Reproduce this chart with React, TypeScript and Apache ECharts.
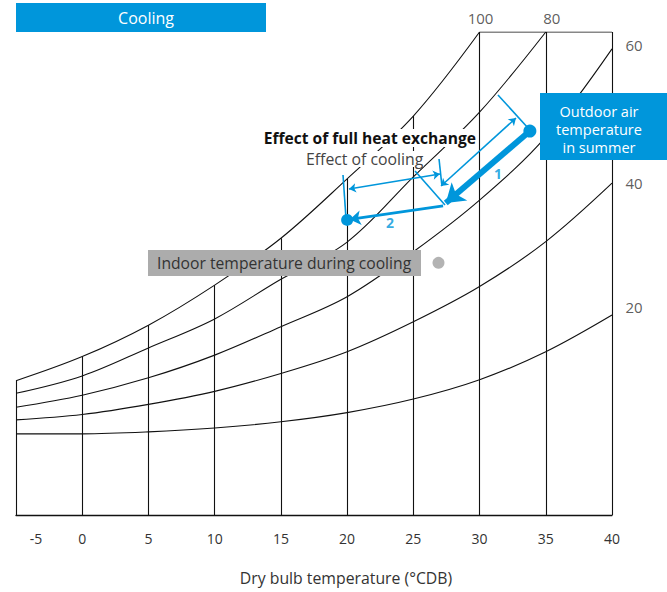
import React, { useEffect, useRef } from 'react';
import * as echarts from 'echarts';

// Dry bulb temperatures (°C) of the chart's vertical grid lines
const temps = [-5, 0, 5, 10, 15, 20, 25, 30, 35, 40];
// Relative humidity curves (chart humidity units, 0–100), read at each temperature
const rh100 = [27.8, 32.8, 39.3, 47.6, 57.3, 69.6, 82.6, 100];
const rh80 = [25.2, 28.8, 34.6, 40.6, 48.8, 56.5, 70.0, 83.4, 100];
const rh60 = [22.3, 24.8, 28.4, 33.1, 39.0, 45.2, 54.5, 65.2, 78.3, 96.5];
const rh40 = [19.7, 20.8, 22.9, 25.6, 29.3, 33.8, 40.0, 47.3, 56.6, 68.7];
const rh20 = [16.8, 16.8, 17.2, 18.0, 19.3, 21.2, 24.0, 28.0, 33.8, 41.4];
const rhLabels = ['100', '80', '60', '40', '20'];
const yTop = 100;

// State points
const outdoorPt = [33.8, 79.5];
const afterExchangePt = [27.45, 64.6];
const arrow2Start = [27.25, 64.0];
const arrow2End = [20.2, 61.2];
const indoorPt = [20.0, 61.1];
const indoorMarkerPt = [26.9, 52.2];

// Dimension extension lines and double arrows (data units)
const extLines = [
  [[31.39, 86.96], [33.73, 79.92]],
  [[25.13, 71.22], [27.39, 64.18]],
  [[26.94, 73.71], [27.16, 68.12]],
  [[19.69, 70.39], [19.92, 61.28]],
];
const dimArrows = [
  [[27.09, 68.12], [32.75, 82.19]],
  [[20.14, 67.49], [27.01, 70.6]],
];
const stepLabels = [
  { name: '1', value: [31.39, 70.8] },
  { name: '2', value: [23.24, 60.46] },
];
const outdoorLines = ['Outdoor air', 'temperature', 'in summer'];

const BLUE = '#0096db';
const FONT = '"Open Sans", "Noto Sans", sans-serif';

function curve(arr: number[]) {
  return arr.map((v, i) => [temps[i], v]);
}

function txt(x: number, y: number, text: string, align: string, extra: any) {
  return {
    type: 'text',
    x,
    y,
    z: 110,
    style: {
      text,
      fontFamily: FONT,
      align,
      verticalAlign: 'middle',
      textAlign: align,
      textVerticalAlign: 'middle',
      ...extra,
    },
  };
}

function box(x: number, y: number, width: number, height: number, fill: string) {
  return { type: 'rect', z: 100, shape: { x, y, width, height }, style: { fill } };
}

export default function App() {
  const ref = useRef<HTMLDivElement>(null);
  useEffect(() => {
    if (!ref.current) return;
    const chart = echarts.init(ref.current, undefined, { renderer: 'svg' });
    const curves = [rh100, rh80, rh60, rh40, rh20];
    const labelPos: any[] = [
      { position: 'top', distance: 6, offset: [1, 0] },
      { position: 'top', distance: 6, offset: [6, 0] },
      { position: 'right', distance: 13, offset: [0, -4] },
      { position: 'right', distance: 13, offset: [0, 0] },
      { position: 'right', distance: 13, offset: [0, -8] },
    ];
    const rhLabelData = curves.map((arr, k) => {
      const i = arr.length - 1;
      return {
        name: rhLabels[k],
        value: [temps[i], arr[i]],
        label: { show: true, formatter: rhLabels[k], ...labelPos[k] },
      };
    });
    const lineStyle = { color: '#111', width: 1.1 };
    const option: any = {
      animation: false,
      grid: { left: 16, right: 55, top: 32, bottom: 77 },
      xAxis: {
        type: 'value',
        min: -5,
        max: 40,
        interval: 5,
        axisLine: { show: true, lineStyle: { color: '#111', width: 1.3 } },
        axisTick: { show: false },
        splitLine: { show: false },
        axisLabel: {
          margin: 16,
          fontSize: 14,
          color: '#333',
          fontFamily: FONT,
          formatter: (v: number) => (v === -5 ? '{a|-5}' : String(v)),
          rich: { a: { fontSize: 14, color: '#333', fontFamily: FONT, padding: [0, 0, 0, 40] } },
        },
      },
      yAxis: { type: 'value', min: 0, max: yTop, show: false },
      series: [
        ...curves.map((arr, k) => ({
          type: 'line',
          name: rhLabels[k] + '%',
          data: curve(arr),
          smooth: 0.35,
          showSymbol: false,
          silent: true,
          lineStyle,
        })),
        {
          type: 'lines',
          coordinateSystem: 'cartesian2d',
          silent: true,
          lineStyle: { ...lineStyle, opacity: 1 },
          data: temps.map((t, i) => ({ coords: [[t, 0], [t, i < rh100.length ? rh100[i] : yTop]] })),
        },
        {
          type: 'line',
          data: [[temps[7], yTop], [temps[9], yTop]],
          showSymbol: false,
          silent: true,
          lineStyle,
        },
        {
          type: 'lines',
          coordinateSystem: 'cartesian2d',
          silent: true,
          z: 120,
          lineStyle: { color: BLUE, width: 1.6, opacity: 1 },
          data: extLines.map((c) => ({ coords: c })),
        },
        {
          type: 'lines',
          coordinateSystem: 'cartesian2d',
          silent: true,
          z: 120,
          symbol: ['arrow', 'arrow'],
          symbolSize: 7,
          lineStyle: { color: BLUE, width: 1.6, opacity: 1 },
          data: dimArrows.map((c) => ({ coords: c })),
        },
        {
          type: 'lines',
          coordinateSystem: 'cartesian2d',
          silent: true,
          z: 120,
          symbol: ['none', 'arrow'],
          symbolSize: 18,
          lineStyle: { color: BLUE, width: 6, opacity: 1 },
          data: [{ coords: [outdoorPt, afterExchangePt] }],
        },
        {
          type: 'lines',
          coordinateSystem: 'cartesian2d',
          silent: true,
          z: 120,
          symbol: ['none', 'arrow'],
          symbolSize: 11,
          lineStyle: { color: BLUE, width: 2.6, opacity: 1 },
          data: [{ coords: [arrow2Start, arrow2End] }],
        },
        {
          type: 'scatter',
          silent: true,
          z: 120,
          data: [
            { value: outdoorPt, symbolSize: 13 },
            { value: indoorPt, symbolSize: 12 },
          ],
          itemStyle: { color: BLUE, opacity: 1 },
        },
        {
          type: 'scatter',
          silent: true,
          data: [{ value: indoorMarkerPt, symbolSize: 12 }],
          itemStyle: { color: '#b3b3b3', opacity: 1 },
        },
        {
          type: 'scatter',
          silent: true,
          symbolSize: 1,
          itemStyle: { color: 'rgba(0,0,0,0)' },
          label: { show: true, color: '#333', fontSize: 15, fontFamily: FONT },
          data: rhLabelData,
        },
        {
          type: 'scatter',
          silent: true,
          z: 120,
          symbolSize: 1,
          itemStyle: { color: 'rgba(0,0,0,0)' },
          label: {
            show: true,
            position: 'inside',
            formatter: '{b}',
            color: BLUE,
            fontSize: 14,
            fontWeight: 'bold',
            fontFamily: FONT,
          },
          data: stepLabels,
        },
      ],
      graphic: [
        box(16, 3, 250, 29, BLUE),
        txt(146, 18, 'Cooling', 'center', { fill: '#fff', fontSize: 16 }),
        box(540, 93, 127, 67, BLUE),
        ...outdoorLines.map((s, i) => txt(599, 111 + i * 18, s, 'center', { fill: '#fff', fontSize: 14.5 })),
        txt(476, 138, 'Effect of full heat exchange', 'right', {
          fill: '#111',
          fontSize: 15.6,
          fontWeight: 'bold',
          backgroundColor: '#fff',
          padding: [1, 0, 1, 0],
        }),
        txt(306, 159, 'Effect of cooling', 'left', {
          fill: '#444',
          fontSize: 15.8,
          backgroundColor: '#fff',
          padding: [0, 0, 0, 0],
        }),
        box(148, 250, 273, 26, '#acacac'),
        txt(157, 263, 'Indoor temperature during cooling', 'left', { fill: '#333', fontSize: 15.7 }),
        txt(346, 578, 'Dry bulb temperature (°CDB)', 'center', { fill: '#333', fontSize: 15.8 }),
      ],
    };
    chart.setOption(option);
    return () => chart.dispose();
  }, []);
  return (
    <div
      ref={ref}
      style={{ position: 'absolute', left: 0, top: 0, width: 667, height: 592, background: '#fff' }}
    />
  );
}
